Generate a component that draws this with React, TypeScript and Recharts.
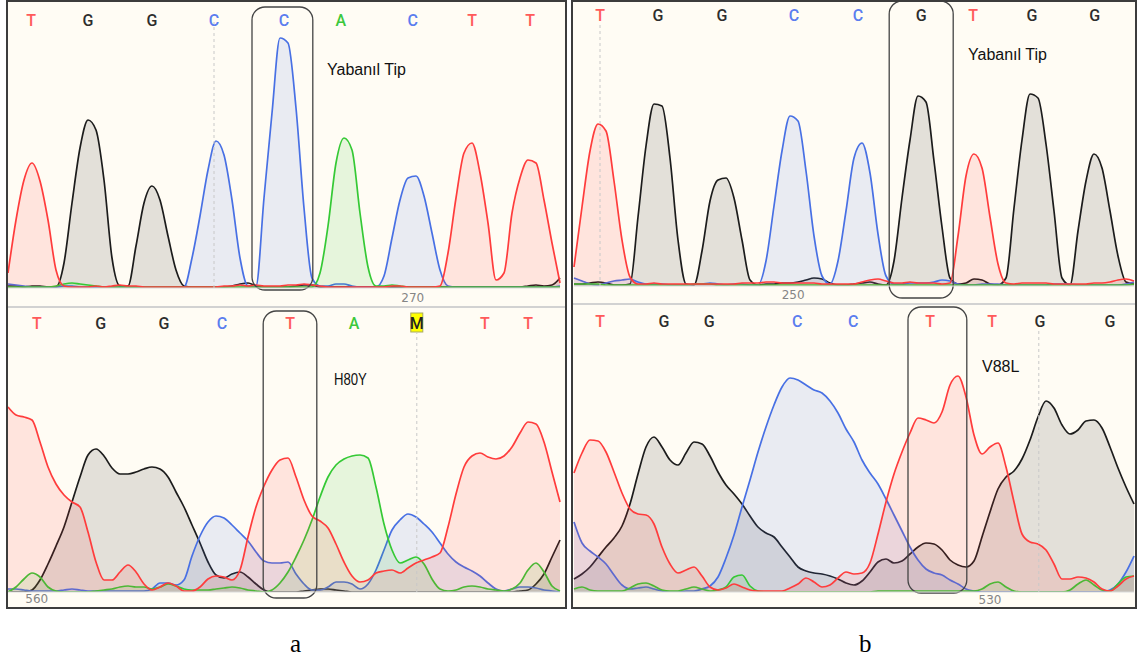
import React from "react";
import { AreaChart, Area, XAxis, YAxis, ReferenceLine, ReferenceArea } from "recharts";

// trace intensities per scan step, one list per dye (A green, C blue, G black, T red)
const aTopA = [
  1, 1, 1, 1, 1, 1, 2, 4, 5, 4, 3, 2, 1, 1, 1, 1, 1, 1, 1, 1, 1, 1, 1, 1, 1, 1, 1, 1, 1, 1,
  1, 1, 1, 1, 1, 1, 1, 1, 1, 15, 62, 125, 150, 138, 75, 21, 2, 2, 3, 2, 1, 1, 1, 1, 1, 1, 1, 1, 1, 1,
  1, 1, 1, 1, 1, 1, 1, 1, 1, 1,
];
const aTopC = [
  4, 3, 2, 1, 1, 1, 1, 2, 2, 1, 1, 1, 1, 1, 1, 1, 1, 1, 1, 1, 1, 1, 1, 30, 72, 118, 147, 133, 88, 30,
  2, 2, 90, 175, 250, 245, 180, 80, 10, 2, 2, 4, 4, 2, 1, 1, 1, 12, 50, 88, 110, 112, 92, 55, 18, 2, 1, 1, 1, 1,
  1, 1, 1, 1, 1, 1, 1, 1, 1, 2,
];
const aTopG = [
  2, 2, 1, 2, 2, 1, 1, 25, 85, 140, 168, 158, 108, 30, 2, 2, 42, 85, 102, 88, 52, 18, 2, 1, 1, 1, 1, 1, 2, 4,
  5, 2, 1, 1, 1, 1, 2, 3, 3, 1, 1, 1, 1, 1, 1, 1, 1, 1, 1, 1, 1, 1, 1, 1, 1, 1, 1, 1, 1, 1,
  1, 1, 1, 1, 1, 2, 3, 2, 3, 10,
];
const aTopT = [
  15, 68, 108, 125, 107, 68, 18, 2, 1, 1, 1, 2, 1, 2, 3, 2, 2, 1, 1, 1, 1, 1, 1, 1, 1, 1, 1, 2, 2, 3,
  2, 3, 2, 2, 2, 3, 3, 4, 3, 2, 1, 1, 1, 1, 1, 1, 1, 1, 2, 2, 1, 1, 1, 1, 2, 35, 90, 135, 145, 115,
  65, 8, 15, 75, 110, 128, 125, 88, 45, 5,
];

const aBotA = [
  0, 5, 13, 19, 15, 5, 1, 0, 0, 0, 0, 1, 2, 3, 5, 6, 5, 5, 3, 5, 8, 6, 3, 2, 2, 2, 3, 4, 5, 4,
  2, 1, 0, 2, 9, 20, 35, 52, 72, 95, 115, 127, 133, 136, 137, 134, 105, 68, 42, 29, 32, 35, 28, 13, 3, 1, 2, 5, 6, 5,
  3, 2, 1, 3, 9, 22, 29, 20, 6, 1,
];
const aBotC = [
  3, 3, 2, 1, 1, 1, 1, 2, 3, 2, 1, 1, 1, 1, 1, 1, 1, 1, 3, 9, 9, 7, 12, 36, 56, 70, 76, 74, 67, 59,
  51, 40, 31, 29, 29, 30, 18, 8, 2, 2, 5, 10, 10, 8, 3, 8, 22, 42, 62, 72, 78, 75, 68, 60, 49, 38, 30, 25, 21, 16,
  9, 3, 1, 3, 5, 5, 4, 2, 1, 0,
];
const aBotG = [
  0, 0, 0, 2, 12, 28, 46, 65, 90, 115, 137, 143, 136, 124, 118, 118, 120, 123, 125, 123, 115, 100, 85, 67, 49, 30, 17, 14, 18, 20,
  15, 8, 2, 0, 0, 0, 0, 1, 2, 3, 3, 2, 1, 0, 0, 0, 0, 0, 0, 0, 0, 0, 0, 0, 0, 0, 0, 0, 0, 0,
  0, 0, 0, 0, 1, 2, 8, 18, 35, 52,
];
const aBotT = [
  185, 177, 175, 172, 150, 125, 108, 97, 90, 85, 60, 30, 12, 12, 20, 27, 20, 8, 2, 5, 9, 6, 1, 1, 5, 13, 16, 15, 12, 22,
  55, 85, 106, 122, 132, 134, 115, 92, 76, 71, 64, 48, 30, 16, 10, 12, 19, 21, 22, 19, 24, 29, 32, 35, 39, 65, 98, 125, 136, 139,
  135, 133, 136, 145, 159, 170, 168, 150, 120, 90,
];

const bTopA = [
  2, 2, 2, 2, 1, 1, 1, 1, 1, 1, 1, 1, 1, 1, 1, 2, 2, 2, 1, 1, 1, 1, 1, 1, 1, 1, 1, 1, 1, 1,
  1, 1, 1, 1, 1, 1, 1, 1, 1, 1, 1, 1, 1, 1, 1, 1, 1, 1, 1, 1, 1, 1, 1, 1, 1, 1, 1, 1, 1, 1,
  1, 1, 1, 1, 1, 1, 1, 1, 1, 1, 2,
];
const bTopC = [
  8, 5, 2, 1, 3, 5, 6, 7, 4, 2, 2, 2, 1, 1, 1, 2, 2, 3, 2, 1, 2, 2, 1, 1, 25, 80, 135, 170, 165, 115,
  50, 10, 2, 25, 75, 128, 143, 113, 52, 10, 2, 2, 3, 3, 3, 4, 6, 5, 2, 1, 1, 2, 2, 2, 1, 1, 1, 1, 1, 1,
  2, 2, 2, 1, 1, 1, 1, 1, 1, 2, 4,
];
const bTopG = [
  2, 2, 3, 4, 3, 1, 1, 2, 69, 140, 182, 180, 128, 46, 2, 1, 35, 85, 106, 108, 88, 46, 6, 1, 2, 2, 3, 3, 4, 6,
  8, 7, 3, 1, 1, 2, 3, 4, 2, 1, 25, 88, 146, 190, 184, 125, 59, 8, 2, 3, 7, 6, 2, 1, 8, 78, 146, 192, 188, 142,
  75, 8, 1, 55, 105, 132, 118, 75, 30, 4, 2,
];
const bTopT = [
  19, 79, 135, 162, 155, 105, 46, 9, 2, 2, 3, 2, 2, 2, 2, 2, 2, 2, 2, 2, 2, 3, 3, 3, 4, 4, 3, 3, 3, 3,
  3, 2, 2, 2, 2, 2, 4, 6, 7, 5, 3, 3, 4, 3, 3, 3, 2, 3, 50, 110, 132, 118, 69, 22, 3, 2, 3, 3, 3, 3,
  2, 2, 2, 2, 2, 3, 3, 4, 6, 7, 5,
];

const bBotA = [
  3, 5, 2, 1, 1, 1, 1, 4, 8, 9, 6, 2, 1, 1, 3, 5, 3, 1, 2, 5, 15, 17, 6, 1, 0, 0, 0, 0, 0, 0,
  0, 0, 0, 0, 0, 0, 0, 0, 1, 1, 1, 1, 1, 1, 1, 1, 1, 1, 1, 1, 1, 3, 8, 10, 5, 1, 0, 0, 0, 0,
  0, 0, 2, 8, 12, 7, 2, 1, 8, 15, 16,
];
const bBotC = [
  70, 49, 41, 35, 28, 17, 7, 3, 4, 5, 3, 1, 0, 0, 1, 1, 3, 6, 15, 34, 57, 85, 112, 140, 165, 187, 205, 214, 212, 207,
  202, 199, 191, 179, 163, 150, 132, 119, 108, 93, 77, 61, 45, 32, 23, 19, 17, 12, 8, 3, 1, 0, 0, 0, 0, 0, 0, 0, 0, 0,
  0, 0, 0, 0, 0, 0, 0, 2, 8, 20, 36,
];
const bBotG = [
  13, 18, 25, 35, 45, 54, 66, 88, 118, 145, 155, 145, 132, 127, 139, 150, 148, 136, 120, 107, 98, 88, 76, 65, 59, 55, 45, 35, 25, 21,
  19, 18, 16, 13, 9, 7, 11, 20, 30, 33, 29, 31, 38, 45, 49, 48, 42, 32, 27, 25, 31, 55, 80, 103, 115, 121, 133, 152, 175, 191,
  184, 167, 158, 162, 171, 172, 164, 145, 124, 105, 88,
];
const bBotT = [
  119, 139, 152, 151, 140, 120, 99, 83, 78, 77, 68, 45, 28, 19, 22, 25, 16, 5, 2, 4, 8, 5, 2, 1, 1, 1, 1, 4, 8, 14,
  10, 5, 7, 14, 20, 18, 19, 29, 58, 90, 118, 140, 159, 174, 172, 169, 180, 207, 216, 195, 157, 138, 145, 149, 125, 90, 58, 50, 48, 42,
  28, 13, 13, 15, 14, 10, 3, 1, 6, 13, 16,
];

// base calls: letter and scan position
type Call = { base: string; pos: number };
const aTopCalls: Call[] = [
  { base: "T", pos: 2.9 }, { base: "G", pos: 10 }, { base: "G", pos: 18 }, { base: "C", pos: 25.75 },
  { base: "C", pos: 34.5 }, { base: "A", pos: 41.6 }, { base: "C", pos: 50.6 }, { base: "T", pos: 58 },
  { base: "T", pos: 65.25 },
];
const aBotCalls: Call[] = [
  { base: "T", pos: 3.6 }, { base: "G", pos: 11.6 }, { base: "G", pos: 19.5 }, { base: "C", pos: 26.75 },
  { base: "T", pos: 35.25 }, { base: "A", pos: 43.25 }, { base: "M", pos: 51.1 }, { base: "T", pos: 59.6 },
  { base: "T", pos: 65 },
];
const bTopCalls: Call[] = [
  { base: "T", pos: 3.25 }, { base: "G", pos: 10.5 }, { base: "G", pos: 18.5 }, { base: "C", pos: 27.5 },
  { base: "C", pos: 35.5 }, { base: "G", pos: 43.4 }, { base: "T", pos: 49.9 }, { base: "G", pos: 57.25 },
  { base: "G", pos: 65.1 },
];
const bBotCalls: Call[] = [
  { base: "T", pos: 3.25 }, { base: "G", pos: 11.25 }, { base: "G", pos: 16.9 }, { base: "C", pos: 27.9 },
  { base: "C", pos: 34.9 }, { base: "T", pos: 44.5 }, { base: "T", pos: 52.25 }, { base: "G", pos: 58.25 },
  { base: "G", pos: 67 },
];

// position ruler labels, guide lines and highlighted base windows
const aTopRuler = { pos: 50.6, label: "270" };
const aBotRuler = { pos: 3.6, label: "560" };
const bTopRuler = { pos: 27.4, label: "250" };
const bBotRuler = { pos: 52, label: "530" };
const aTopGuide = 25.75;
const aBotGuide = 51.1;
const bTopGuide = 3.25;
const bBotGuide = 58.1;
const aTopBox = [30.5, 38.1];
const aBotBox = [31.9, 38.6];
const bTopBox = [39.4, 47.4];
const bBotBox = [41.75, 49.1];

const traceColors: Record<string, string> = { A: "#35c935", C: "#4870e4", G: "#1c1c1c", T: "#ff3c3c" };
const callColors: Record<string, string> = { A: "#3cc83c", C: "#5b7def", G: "#2d2d2d", T: "#ff5a5a", M: "#222" };
const cream = "#fffcf4";

const CallTick = ({ x, payload, calls, y0 }: any) => {
  const call = calls.find((c: Call) => Math.abs(c.pos - payload.value) < 1e-6);
  if (!call) return null;
  return (
    <g>
      {call.base === "M" && (
        <rect x={x - 6} y={y0 - 10} width={12} height={19} fill="#ffff00" stroke="#a8a860" strokeWidth={1} />
      )}
      <text x={x} y={y0} textAnchor="middle" dominantBaseline="central" fontSize={16} fontWeight={500}
        fontFamily="Roboto, 'DejaVu Sans', sans-serif" fill={callColors[call.base]}>
        {call.base}
      </text>
    </g>
  );
};

const RulerTick = ({ x, label, y0 }: any) => (
  <text x={x} y={y0} textAnchor="middle" dominantBaseline="central" fontSize={12}
    fontFamily="'DejaVu Sans', sans-serif" fill="#858585">
    {label}
  </text>
);

const BoxShape = (props: any) => (
  <rect x={props.x} y={props.y} width={props.width} height={props.height} rx={13} ry={13}
    fill="none" stroke="#444" strokeWidth={1.3} />
);

type TraceProps = {
  a: number[]; c: number[]; g: number[]; t: number[];
  calls: Call[];
  ruler: { pos: number; label: string };
  guide: number;
  box: number[];
  boxY: number[];
  yMax: number;
  left: number; top: number; width: number; height: number;
  margin: { top: number; right: number; bottom: number; left: number };
  callsHeight: number; axisHeight: number;
  letterY: number; rulerY: number;
};

const Trace = (p: TraceProps) => {
  const rows = p.a.map((_, i) => ({ i, A: p.a[i], C: p.c[i], G: p.g[i], T: p.t[i] }));
  const n = rows.length - 1;
  return (
    <div style={{ position: "absolute", left: p.left, top: p.top }}>
      <AreaChart width={p.width} height={p.height} data={rows} margin={p.margin}>
        <XAxis xAxisId="calls" orientation="top" dataKey="i" type="number" domain={[0, n]}
          ticks={p.calls.map((c) => c.pos)} interval={0} height={p.callsHeight}
          axisLine={false} tickLine={false}
          tick={(props: any) => <CallTick {...props} calls={p.calls} y0={p.letterY} />} />
        <XAxis dataKey="i" type="number" domain={[0, n]} ticks={[p.ruler.pos]} interval={0}
          height={p.axisHeight} axisLine={{ stroke: "#d9d9d9" }} tickLine={false}
          tick={(props: any) => <RulerTick {...props} label={p.ruler.label} y0={p.rulerY} />} />
        <YAxis hide domain={[0, p.yMax]} allowDataOverflow />
        <ReferenceLine x={p.guide} stroke="#c8c8c8" strokeDasharray="3 3" />
        {["G", "C", "A", "T"].map((k) => (
          <Area key={k} dataKey={k} type="monotone" stroke={traceColors[k]} strokeWidth={1.7}
            fill={traceColors[k]} fillOpacity={0.12} dot={false} activeDot={false}
            isAnimationActive={false} />
        ))}
        <ReferenceArea x1={p.box[0]} x2={p.box[1]} y1={p.boxY[0]} y2={p.boxY[1]}
          ifOverflow="visible" shape={BoxShape} />
      </AreaChart>
    </div>
  );
};

const note = (text: string, left: number, top: number, narrow = false) => (
  <div style={{
    position: "absolute", left, top, fontSize: 16, lineHeight: "18px", color: "#111",
    fontFamily: "'Liberation Sans', Arial, sans-serif", whiteSpace: "nowrap",
    transform: narrow ? "scaleX(0.82)" : undefined, transformOrigin: "left center",
  }}>
    {text}
  </div>
);

export default function App() {
  return (
    <div style={{ position: "absolute", left: 0, top: 0, width: 1140, height: 666, background: "#fff", overflow: "hidden" }}>
      {/* panel a */}
      <div style={{ position: "absolute", left: 6, top: 0, width: 561, height: 609, boxSizing: "border-box",
        border: "2px solid #3c3c3c", background: cream }} />
      <div style={{ position: "absolute", left: 8, top: 306, width: 557, height: 2, background: "#d2d2d2" }} />
      {/* panel b */}
      <div style={{ position: "absolute", left: 571, top: 0, width: 566, height: 609, boxSizing: "border-box",
        border: "2px solid #3c3c3c", background: cream }} />
      <div style={{ position: "absolute", left: 573, top: 303, width: 562, height: 2, background: "#d2d2d2" }} />

      <Trace a={aTopA} c={aTopC} g={aTopG} t={aTopT} calls={aTopCalls} ruler={aTopRuler} guide={aTopGuide}
        box={aTopBox} boxY={[-2, 281]} yMax={266}
        left={8} top={2} width={556} height={303} margin={{ top: 0, right: 4, bottom: 0, left: 0 }}
        callsHeight={20} axisHeight={17} letterY={18.5} rulerY={296} />
      <Trace a={aBotA} c={aBotC} g={aBotG} t={aBotT} calls={aBotCalls} ruler={aBotRuler} guide={aBotGuide}
        box={aBotBox} boxY={[-6, 281]} yMax={259}
        left={8} top={309} width={556} height={298} margin={{ top: 0, right: 4, bottom: 0, left: 0 }}
        callsHeight={24} axisHeight={15} letterY={14} rulerY={290} />
      <Trace a={bTopA} c={bTopC} g={bTopG} t={bTopT} calls={bTopCalls} ruler={bTopRuler} guide={bTopGuide}
        box={bTopBox} boxY={[-12, 285]} yMax={264}
        left={573} top={2} width={563} height={301} margin={{ top: 0, right: 2, bottom: 0, left: 1 }}
        callsHeight={20} axisHeight={17} letterY={13} rulerY={293} />
      <Trace a={bBotA} c={bBotC} g={bBotG} t={bBotT} calls={bBotCalls} ruler={bBotRuler} guide={bBotGuide}
        box={bBotBox} boxY={[-1, 285]} yMax={262}
        left={573} top={306} width={563} height={301} margin={{ top: 0, right: 2, bottom: 0, left: 1 }}
        callsHeight={24} axisHeight={15} letterY={15} rulerY={294} />

      {note("Yabanıl Tip", 327, 61)}
      {note("H80Y", 334, 371, true)}
      {note("Yabanıl Tip", 968, 46)}
      {note("V88L", 982, 358)}

      <div style={{ position: "absolute", left: 290, top: 630, fontSize: 25, fontFamily: "'Liberation Serif', 'Times New Roman', serif" }}>a</div>
      <div style={{ position: "absolute", left: 859, top: 630, fontSize: 25, fontFamily: "'Liberation Serif', 'Times New Roman', serif" }}>b</div>
    </div>
  );
}
